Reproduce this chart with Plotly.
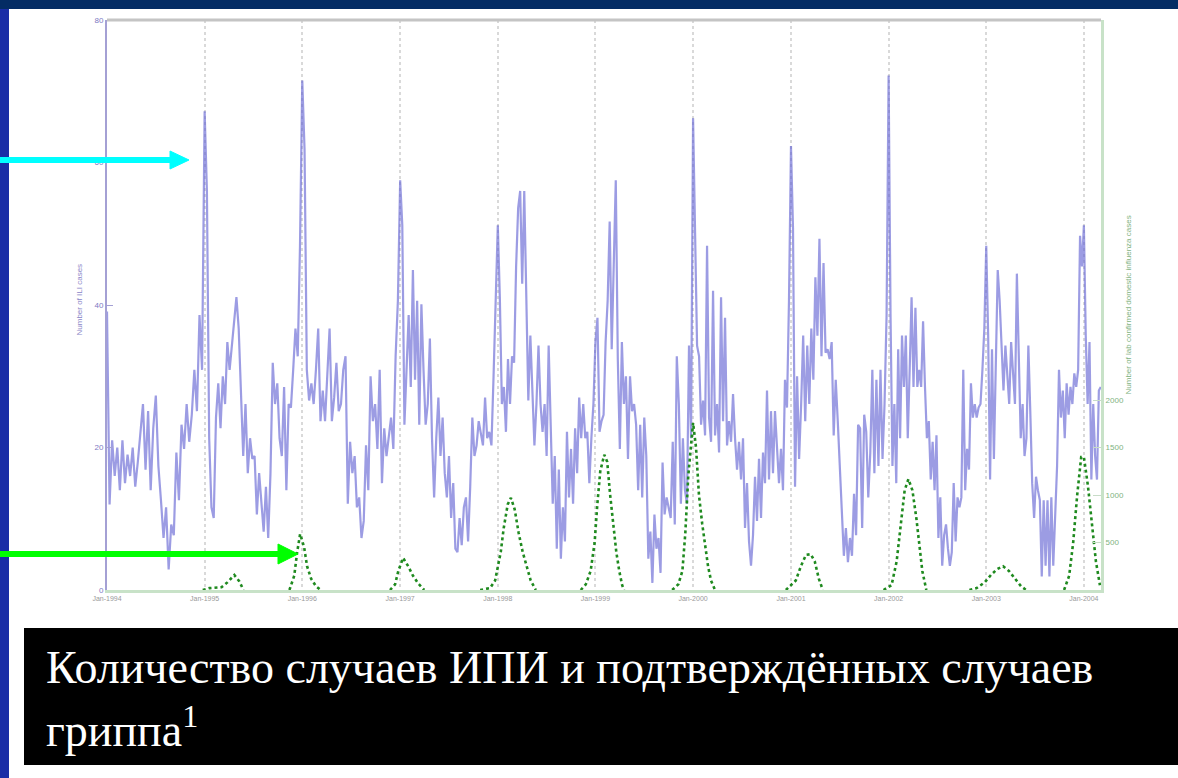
import pandas as pd
import plotly.graph_objects as go

# ---------------- data: weekly ILI cases (left axis), read per year ----------------
ili_1994 = [39.1, 12, 21, 16, 20, 14, 21, 15, 19, 16, 20, 14.5, 18, 22, 26.1, 16.9, 25.1, 14, 22.7, 27.3,
            17.4, 12.6, 7.3, 11.6, 2.9, 9.2, 7.7, 19.3, 12.6, 23.2, 19.8, 26.1, 20.8, 24.6, 30.9, 25.1, 38.6, 30.9]
ili_1995 = [67.2, 56, 21.3, 11.6, 10.1, 24.2, 29, 22.7, 30, 26.1, 34.8, 30.9, 34.3, 38.6, 41.1, 36.7, 28, 18.8,
            26.1, 16.4, 21.3, 18.4, 18.8, 10.6, 16.4, 11.6, 8.2, 14.5, 7.3, 16.4, 31.9, 26.1, 29, 21.3, 18.8, 28.5,
            14, 26.1, 25.6, 30.9, 36.7, 32.8, 48.3]
ili_1996 = [71.5, 61.8, 30.9, 26.6, 29, 26.1, 30.9, 36.7, 23.7, 28, 23.7, 30.9, 36.7, 23.7, 27, 31.9, 25.1, 26.1,
            30.9, 32.8, 12.1, 20.8, 16.4, 18.8, 11.6, 13, 7.3, 9.7, 20.3, 14, 30, 23.7, 26.1, 19.8, 30.9, 15, 22.7,
            18.8, 21.7, 24.2, 19.8, 32.8, 40.6]
ili_1997 = [57.5, 51.2, 23.2, 30.9, 38.6, 28.5, 44.9, 29.5, 40.6, 23.2, 40.1, 30.9, 23.2, 26.1, 35.3, 21.3, 13,
            21.3, 27, 18.8, 24.2, 16.4, 13, 18.8, 10.1, 15, 5.8, 5.3, 10.1, 6.3, 11.6, 13, 6.8, 14.5, 24.2, 18.8,
            20.3, 23.7, 21.7, 20.3, 27, 21.3, 22.2, 20.3, 30, 40.6]
ili_1998 = [51.2, 41, 26.1, 28.5, 22.2, 32.4, 26.1, 32.8, 31.9, 45.4, 53.6, 56, 43, 56, 42.5, 26.6, 35.7, 26.6,
            20.3, 26.1, 34.3, 26.1, 22.2, 26.1, 18.8, 34.3, 21.3, 12.1, 18.8, 5.8, 16.9, 4.4, 11.6, 6.8, 22.2, 13,
            19.8, 12.1, 22.7, 16.4, 27, 21.3, 26.1, 21.3, 22.2, 15, 21.3, 26.1]
ili_1999 = [34.8, 38.2, 22.2, 23.7, 24.6, 34.8, 40.6, 51.7, 33.8, 45.4, 57.5, 32.4, 19.8, 34.8, 26.1, 30, 18.4,
            30, 25.1, 26.1, 23.2, 14, 23.2, 13, 24.2, 18.8, 4.4, 8.2, 1, 10.6, 5.8, 7.3, 2.4, 17.9, 10.6, 13, 11.6,
            10.1, 20.8, 9.2, 32.8, 26.1, 12.1, 21.3, 14, 12.1, 34.3, 21.3]
ili_2000 = [66.2, 48.8, 34.3, 32.8, 23.2, 26.6, 21.7, 48.3, 24.2, 20.8, 42, 21.7, 26.1, 19.3, 41.1, 23.7, 38.2,
            20.3, 23.7, 20.8, 27.5, 21.3, 16.9, 20.8, 15.5, 21.3, 8.7, 15, 6.8, 3.4, 7.7, 15.9, 9.7, 18.4, 10.1,
            19.3, 15, 28, 15.5, 25.1, 16.4, 25.1, 19.8, 15, 19.8, 14, 29.5, 25.6, 40.6]
ili_2001 = [62.3, 50.7, 14.5, 30, 18.4, 26.1, 35.7, 23.7, 34.3, 26.1, 36.7, 29.5, 43.9, 35.7, 49.3, 32.8, 45.9,
            33.3, 33.8, 32.4, 34.8, 21.7, 29.5, 23.7, 16.9, 11.6, 4.8, 8.7, 3.9, 7.3, 4.8, 13.5, 7.7, 23.2, 22.7,
            8.7, 24.6, 22.2, 13, 19.3, 30.9, 16.4, 29.5, 17.4, 30.9, 18.4, 26.1, 38.6]
ili_2002 = [72.2, 38.6, 17.4, 26.1, 15, 33.8, 21.3, 35.7, 28.5, 35.7, 21.3, 30.9, 41.1, 28.5, 39.6, 28.5, 30.9,
            28.5, 37.7, 28.5, 21.3, 23.7, 15.5, 20.8, 14, 21.7, 7.3, 13, 3.4, 7.7, 9.2, 5.8, 3.4, 5.3, 15, 6.8, 13,
            11.6, 13, 30.9, 14, 19.8, 16.9, 29, 24.2, 26.1, 24.2, 25.6, 26.1, 30.9, 36.7]
ili_2003 = [48.3, 35.7, 15.5, 33.8, 18.4, 30.9, 44.9, 40.6, 34.3, 28, 34.3, 30, 26.1, 34.8, 29.5, 26.1, 44.4,
            30.9, 21.3, 26.1, 18.8, 21.3, 34.3, 25.1, 15, 10.1, 15.9, 14, 12.6, 1.9, 12.6, 3.4, 12.6, 1.9, 13, 3.4,
            11.6, 17.4, 30.9, 24.2, 28, 21.3, 29, 24.6, 28.5, 26.1, 30.4, 28.5, 30.9, 49.7, 45.4]
ili_2004 = [51.2, 35.7, 26.1, 34.8, 15.5, 26.1, 18.8, 15.5, 28, 28.5]   # Jan-Mar 2004, weekly

ili_years = [1994, 1995, 1996, 1997, 1998, 1999, 2000, 2001, 2002, 2003, 2004]
ili_lists = [ili_1994, ili_1995, ili_1996, ili_1997, ili_1998, ili_1999, ili_2000, ili_2001, ili_2002,
             ili_2003, ili_2004]
ili_2004_span_days = 70   # last (partial) year: weekly values

# ---------------- data: lab-confirmed influenza cases (right axis) ----------------
flu_dates = [
    "1994-12-25", "1995-01-19", "1995-03-05", "1995-03-27", "1995-04-22", "1995-05-11", "1995-05-26", None,
    "1995-11-14", "1995-12-02", "1995-12-13", "1995-12-24", "1996-01-08", "1996-01-19", "1996-02-03",
    "1996-02-21", "1996-03-10", None,
    "1996-11-24", "1996-12-13", "1996-12-25", "1997-01-12", "1997-01-31", "1997-02-18", "1997-03-09",
    "1997-04-01", None,
    "1997-10-27", "1997-12-03", "1997-12-22", "1998-01-12", "1998-01-23", "1998-02-07", "1998-02-19",
    "1998-03-05", "1998-03-20", "1998-04-04", "1998-04-19", "1998-05-04", "1998-05-23", None,
    "1998-11-07", "1998-11-26", "1998-12-14", "1998-12-29", "1999-01-08", "1999-01-19", "1999-02-03",
    "1999-02-14", "1999-02-25", "1999-03-08", "1999-03-20", "1999-03-31", "1999-04-11", "1999-04-18", None,
    "1999-10-15", "1999-11-07", "1999-11-22", "1999-12-03", "1999-12-14", "2000-01-01", "2000-01-12",
    "2000-01-23", "2000-02-04", "2000-02-15", "2000-02-26", "2000-03-08", "2000-03-23", None,
    "2000-12-13", "2001-01-19", "2001-02-07", "2001-02-26", "2001-03-16", "2001-03-31", "2001-04-15",
    "2001-04-30", None,
    "2001-12-13", "2002-01-12", "2002-01-31", "2002-02-15", "2002-03-02", "2002-03-16", "2002-03-31",
    "2002-04-15", "2002-04-26", "2002-05-07", "2002-05-22", None,
    "2002-10-30", "2002-11-26", "2002-12-26", "2003-01-19", "2003-02-11", "2003-03-05", "2003-03-27",
    "2003-04-22", "2003-05-11", "2003-05-30", None,
    "2003-10-19", "2003-11-07", "2003-11-22", "2003-12-07", "2003-12-22", "2004-01-01", "2004-01-16",
    "2004-01-31", "2004-02-15", "2004-03-01",
]
flu_counts = [
    0, 20, 30, 80, 157, 90, 0, None,
    0, 150, 400, 590, 450, 250, 120, 40, 0, None,
    0, 60, 200, 338, 250, 150, 70, 0, None,
    0, 20, 100, 400, 650, 900, 970, 850, 600, 400, 250, 100, 0, None,
    0, 60, 200, 500, 900, 1250, 1424, 1350, 1000, 700, 400, 200, 50, 0, None,
    0, 60, 200, 600, 1200, 1760, 1500, 1000, 700, 450, 250, 100, 0, None,
    0, 100, 250, 370, 377, 300, 120, 0, None,
    0, 50, 300, 700, 1050, 1167, 1050, 750, 450, 200, 0, None,
    0, 20, 80, 160, 220, 250, 200, 100, 40, 0, None,
    0, 150, 500, 1000, 1400, 1400, 1100, 700, 300, 50,
]

x_tick_years = [1994, 1995, 1996, 1997, 1998, 1999, 2000, 2001, 2002, 2003, 2004]
x_tick_labels = ["Jan-" + str(y) for y in x_tick_years]
left_ticks = [0, 20, 40, 60, 80]
right_ticks = [500, 1000, 1500, 2000]

caption_line1 = "Количество случаев ИПИ и подтверждённых случаев"
caption_line2 = "гриппа<sup>1</sup>"

# ---------------- build series ----------------
ili_x, ili_y = [], []
for yr, vals in zip(ili_years, ili_lists):
    start = pd.Timestamp(yr, 1, 1)
    span = ili_2004_span_days if yr == 2004 else (pd.Timestamp(yr + 1, 1, 1) - start).days
    for i, v in enumerate(vals):
        ili_x.append(start + pd.Timedelta(days=i * span / len(vals)))
        ili_y.append(v)

# ---------------- page geometry (pixels) ----------------
W, H = 1178, 778
L, R, T, B = 107, 1101, 20, 590


def px(X):
    return (X - L) / (R - L)


def py(Y):
    return (B - Y) / (B - T)


fig = go.Figure()
fig.add_trace(go.Scatter(x=ili_x, y=ili_y, mode="lines",
                         line=dict(color="rgba(95,95,210,0.62)", width=2.2),
                         name="ILI", yaxis="y"))
fig.add_trace(go.Scatter(x=flu_dates, y=flu_counts, mode="lines",
                         line=dict(color="#1f8a1f", width=2.6, dash="dot"),
                         connectgaps=False, name="Lab", yaxis="y2"))

shapes = [
    # slide decorations
    dict(type="rect", xref="paper", yref="paper", x0=px(0), x1=px(W), y0=py(9), y1=py(0),
         fillcolor="#042c64", line=dict(width=0), layer="below"),
    dict(type="rect", xref="paper", yref="paper", x0=px(0), x1=px(9), y0=py(H), y1=py(9),
         fillcolor="#1a2ea6", line=dict(width=0), layer="below"),
    # top border of the chart
    dict(type="line", xref="paper", yref="paper", x0=0, x1=1, y0=1, y1=1,
         line=dict(color="#c4c4c4", width=3)),
    # caption box
    dict(type="rect", xref="paper", yref="paper", x0=px(24), x1=px(W), y0=py(765), y1=py(628),
         fillcolor="black", line=dict(width=0)),
    # cyan arrow
    dict(type="line", xref="paper", yref="paper", x0=px(0), x1=px(174), y0=py(160), y1=py(160),
         line=dict(color="#00ffff", width=6)),
    dict(type="path", xref="paper", yref="paper",
         path=f"M {px(170)},{py(151)} L {px(189)},{py(160)} L {px(170)},{py(169)} Z",
         fillcolor="#00ffff", line=dict(color="#00ffff", width=1)),
    # green arrow
    dict(type="line", xref="paper", yref="paper", x0=px(0), x1=px(282), y0=py(554), y1=py(554),
         line=dict(color="#00ff00", width=6)),
    dict(type="path", xref="paper", yref="paper",
         path=f"M {px(278)},{py(544)} L {px(298)},{py(554)} L {px(278)},{py(564)} Z",
         fillcolor="#00ff00", line=dict(color="#00ff00", width=1)),
]

annotations = [
    dict(text="Number of ILI cases", xref="paper", yref="paper", x=px(72), y=py(300),
         showarrow=False, textangle=-90, font=dict(size=8, color="#8a86c8", family="Liberation Sans")),
    dict(text="Number of lab confirmed domestic influenza cases", xref="paper", yref="paper",
         x=px(1134), y=py(305), showarrow=False, textangle=-90,
         font=dict(size=8, color="#7fb37f", family="Liberation Sans")),
    dict(text=caption_line1, xref="paper", yref="paper", x=px(44), y=py(667), xanchor="left",
         yanchor="middle", showarrow=False, font=dict(size=46, color="white", family="Liberation Serif")),
    dict(text=caption_line2, xref="paper", yref="paper", x=px(44), y=py(727), xanchor="left",
         yanchor="middle", showarrow=False, font=dict(size=46, color="white", family="Liberation Serif")),
]

fig.update_layout(
    width=W, height=H,
    margin=dict(l=L, r=W - R, t=T, b=H - B, pad=0),
    paper_bgcolor="white", plot_bgcolor="white",
    showlegend=False,
    shapes=shapes, annotations=annotations,
    xaxis=dict(type="date", range=["1994-01-01", "2004-03-05"],
               tickvals=[f"{y}-01-01" for y in x_tick_years], ticktext=x_tick_labels,
               showgrid=True, gridcolor="#d9d9d9", gridwidth=2, griddash="dot",
               showline=True, linecolor="#c8e2c8", linewidth=3, ticks="",
               tickfont=dict(size=7, color="#999999", family="Liberation Sans"), zeroline=False),
    yaxis=dict(range=[0, 80], tickvals=left_ticks, showgrid=False, zeroline=False,
               showline=True, linecolor="#a4a0d4", linewidth=2, ticks="inside", ticklen=6,
               tickcolor="#a4a0d4",
               tickfont=dict(size=8, color="#7d79c4", family="Liberation Sans")),
    yaxis2=dict(range=[0, 6000], overlaying="y", side="right", tickvals=right_ticks,
                showgrid=False, zeroline=False, showline=True, linecolor="#c8e2c8", linewidth=3,
                ticks="inside", ticklen=8, tickcolor="#c8dcc8",
                tickfont=dict(size=8, color="#7fb37f", family="Liberation Sans")),
)

fig.write_html("out.html", post_script="document.body.style.margin='0';document.body.style.overflow='hidden';",
               config={"displayModeBar": False})
